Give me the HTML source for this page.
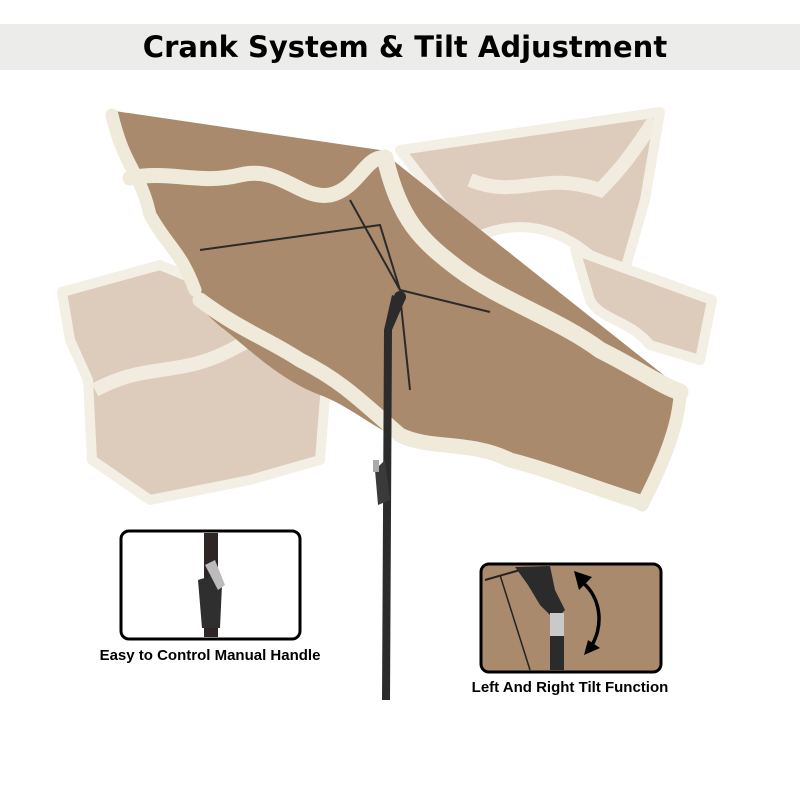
<!DOCTYPE html>
<html><head><meta charset="utf-8"><style>
html,body{margin:0;padding:0;background:#fff;width:800px;height:800px;overflow:hidden}
svg{display:block}
text{font-family:"Liberation Sans",Arial,sans-serif;font-weight:bold;fill:#000}
</style></head><body>
<svg width="800" height="800" viewBox="0 0 800 800" xmlns="http://www.w3.org/2000/svg">
<rect x="0" y="24" width="800" height="46" fill="#ececea"/>
<text x="405" y="57" font-size="29" text-anchor="middle" style="font-family:'DejaVu Sans','Liberation Sans',sans-serif;font-weight:900">Crank System &amp; Tilt Adjustment</text>

<!-- ghost canopies -->
<g fill="#ddccbc" stroke="#f4efe4" stroke-width="10" stroke-linejoin="round">
<path d="M400,150 L660,112 L645,200 L625,270 L590,255 C560,230 520,215 470,240 Z"/>
<path d="M575,250 L712,300 L700,360 L650,345 C630,320 600,320 590,300 Z"/>
<path d="M62,292 L160,265 L330,335 L320,460 L250,480 L150,500 L92,460 L88,380 L70,340 Z"/>
</g>
<g fill="none" stroke="#f3eee3" stroke-width="14" opacity="0.9">
<path d="M95,390 C150,360 180,380 240,345 C270,330 300,320 330,330"/>
<path d="M470,180 C520,200 540,170 600,190 C630,160 640,140 655,120"/>
</g>

<!-- main canopy -->
<path d="M108,110 L380,150 L680,388 L682,420 L640,500 C600,500 580,470 540,470 C500,470 470,440 430,445 C390,445 360,410 320,395 C280,380 250,350 225,330 C205,315 195,300 190,290 C180,260 160,230 140,200 Z" fill="#a98a6d"/>
<!-- fringes -->
<g fill="none" stroke="#f0eadb" stroke-linecap="round" stroke-linejoin="round">
<path d="M112,115 C125,170 140,170 150,215 C170,250 180,250 195,290" stroke-width="13"/>
<path d="M130,178 C170,170 200,185 240,175 C280,165 300,200 330,195 C355,190 365,160 380,158" stroke-width="15"/>
<path d="M385,158 C400,220 420,240 460,270 C500,300 560,320 600,350 C640,370 660,385 680,392" stroke-width="17"/>
<path d="M200,300 C240,330 270,340 300,360 C340,380 360,400 400,435 C430,450 470,440 510,460 C550,470 600,490 640,502" stroke-width="15"/>
<path d="M680,395 C678,430 660,470 642,505" stroke-width="13"/>
</g>
<!-- ribs -->
<g stroke="#2a2a2a" stroke-width="2" fill="none">
<path d="M200,250 L380,225 L400,290"/>
<path d="M350,200 L400,290 L490,312"/>
<path d="M400,295 L410,390"/>
</g>
<!-- pole -->
<path d="M392,295 L405,300 L392,330 L390,700 L382,700 L384,330 Z" fill="#2b2b2b"/>
<circle cx="400" cy="297" r="6" fill="#2b2b2b"/>
<path d="M375,470 L385,460 L390,500 L378,505 Z" fill="#3a3a3a"/>
<rect x="373" y="460" width="6" height="12" fill="#aaa"/>

<!-- left inset -->
<rect x="121" y="531" width="179" height="108" rx="8" fill="#fff" stroke="#000" stroke-width="3"/>
<rect x="204" y="533" width="14" height="104" fill="#2e2624"/>
<path d="M198,580 L214,575 L222,585 L220,628 L202,628 Z" fill="#2f2f2f"/>
<path d="M205,565 L215,560 L225,585 L218,590 Z" fill="#bbb"/>
<text x="210" y="660" font-size="15" text-anchor="middle">Easy to Control Manual Handle</text>

<!-- right inset -->
<rect x="481" y="564" width="180" height="108" rx="8" fill="#a98a6d" stroke="#000" stroke-width="3"/>
<path d="M485,580 L520,570" stroke="#222" stroke-width="2"/>
<path d="M500,575 L530,670" stroke="#222" stroke-width="1.5"/>
<path d="M515,567 L550,566 L555,590 L565,610 L555,620 L540,605 L528,585 Z" fill="#2b2b2b"/>
<rect x="550" y="613" width="14" height="23" fill="#c9c9c9"/>
<rect x="550" y="636" width="14" height="34" fill="#2b2b2b"/>
<path d="M582,582 C602,598 604,628 590,648" fill="none" stroke="#000" stroke-width="3.5"/>
<path d="M574,571 L592,577 L579,590 Z M584,655 L600,648 L588,640 Z" fill="#000"/>
<text x="570" y="692" font-size="15" text-anchor="middle">Left And Right Tilt Function</text>
</svg>
</body></html>
